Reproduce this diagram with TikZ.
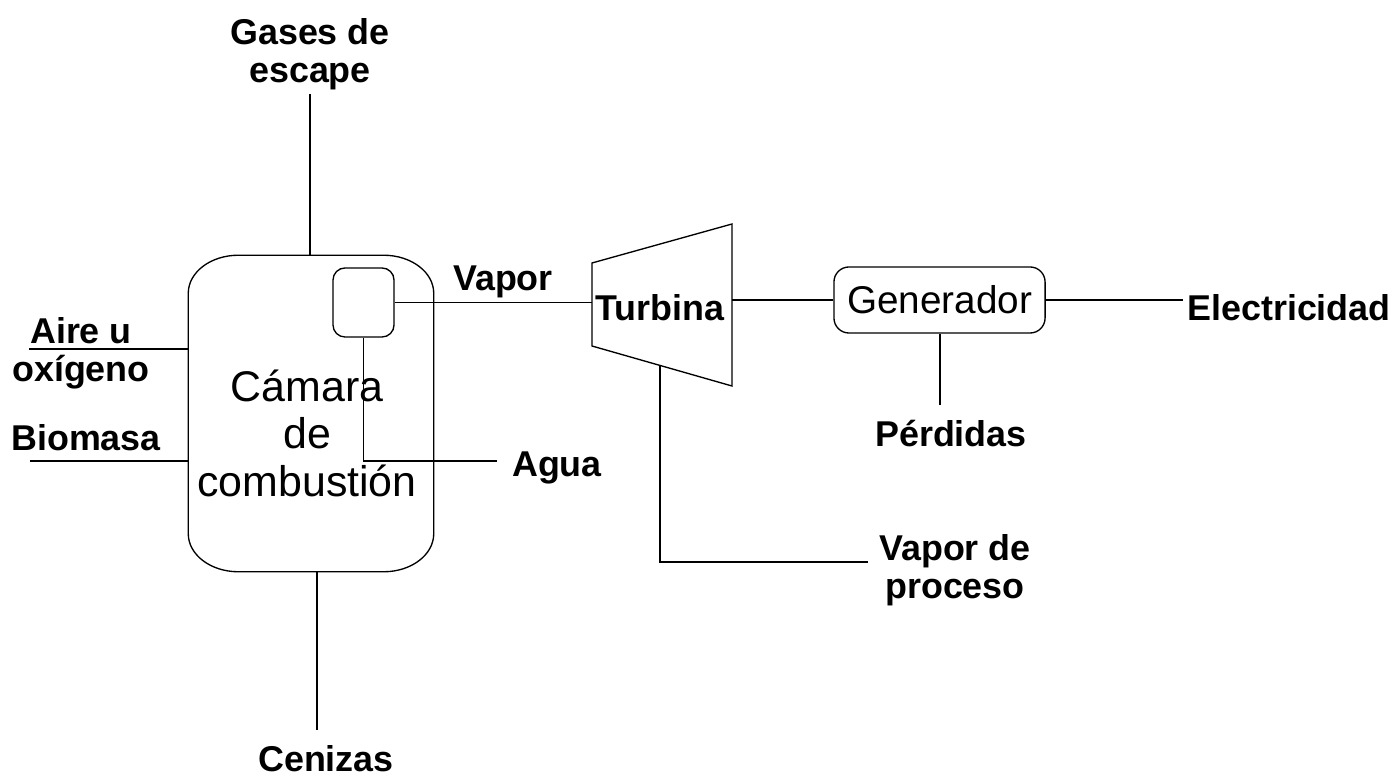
\documentclass[tikz,border=0pt]{standalone}
\usepackage{fontspec}
\setmainfont{Liberation Sans}
\usetikzlibrary{calc}

\begin{document}
\begin{tikzpicture}[x=0.01cm,y=-0.01cm,line width=0.38pt,
    lbl/.style={font=\fontsize{10.2}{10.8}\selectfont\bfseries,align=center,inner sep=1pt},
    box/.style={draw,rectangle,rounded corners=#1},
    corner/.style={x radius=0.5cm,y radius=0.38cm}]
            \useasboundingbox (0,0) rectangle (1398,777);
            % camara y caldera
            \node (chamber) at (311,413.5) [rectangle,minimum width=2.44cm,minimum height=3.15cm] {};
            \draw ([xshift=0.5cm]chamber.north west) -- ([xshift=-0.5cm]chamber.north east)
              arc[start angle=90,end angle=0,corner] -- ([yshift=0.38cm]chamber.south east)
              arc[start angle=0,end angle=-90,corner] -- ([xshift=0.5cm]chamber.south west)
              arc[start angle=270,end angle=180,corner] -- ([yshift=-0.38cm]chamber.north west)
              arc[start angle=180,end angle=90,corner] -- cycle;
            \node (chambertxt) at (307,433) [align=center,font=\fontsize{12.2}{13.5}\selectfont] {Cámara\\de\\combustión};
            \node (boiler) at (363.5,302.5) [box=0.12cm,minimum width=0.61cm,minimum height=0.69cm] {};
            % turbina
            \coordinate (tnw) at (592,263);
            \coordinate (tsw) at (592,346);
            \coordinate (tne) at (732,224);
            \coordinate (tse) at (732,386);
            \draw (tnw) -- (tne) -- (tse) -- (tsw) -- cycle;
            \coordinate (tbot) at ($(tsw)!0.486!(tse)$);
            \node (turbine) at (660,308) [lbl] {Turbina};
            \node (gen) at (939.5,300) [box=0.15cm,minimum width=2.11cm,minimum height=0.66cm,font=\fontsize{11}{12}\selectfont] {Generador};
            % etiquetas
            \node (gases) at (310,54) [lbl] {Gases de\\escape};
            \node (air) at (81,353) [lbl] {Aire u\\oxígeno};
            \node (biomass) at (86,438) [lbl] {Biomasa};
            \node (ash) at (326,759) [lbl] {Cenizas};
            \node (steam) at (503,282) [lbl] {Vapor};
            \node (water) at (557,468) [lbl] {Agua};
            \node (procsteam) at (955,570) [lbl] {Vapor de\\proceso};
            \node (elec) at (1289,308) [lbl] {Electricidad};
            \node (loss) at (951,434) [lbl] {Pérdidas};
            \coordinate (airin) at (29,349);
            \coordinate (bioin) at (30,461);
            \coordinate (ashend) at (317,730);
            \coordinate (waterin) at (497,461);
            \coordinate (procend) at (868,562);
            \coordinate (lossend) at (940,405);
            % lineas
            \draw (gases.south) -- (gases.south |- chamber.north);
            \draw (chamber.south -| ashend) -- (ashend);
            \draw (airin) -- (airin -| chamber.west);
            \draw (bioin) -- (bioin -| chamber.west);
            \draw (boiler.east) -- (boiler.east -| tnw);
            \draw (boiler.south) |- (waterin);
            \draw (tbot) |- (procend);
            \draw (gen.west -| tne) -- (gen.west);
            \draw (gen.east) -- (gen.east -| elec.west);
            \draw (gen.south -| lossend) -- (lossend);
        \end{tikzpicture}
\end{document}
